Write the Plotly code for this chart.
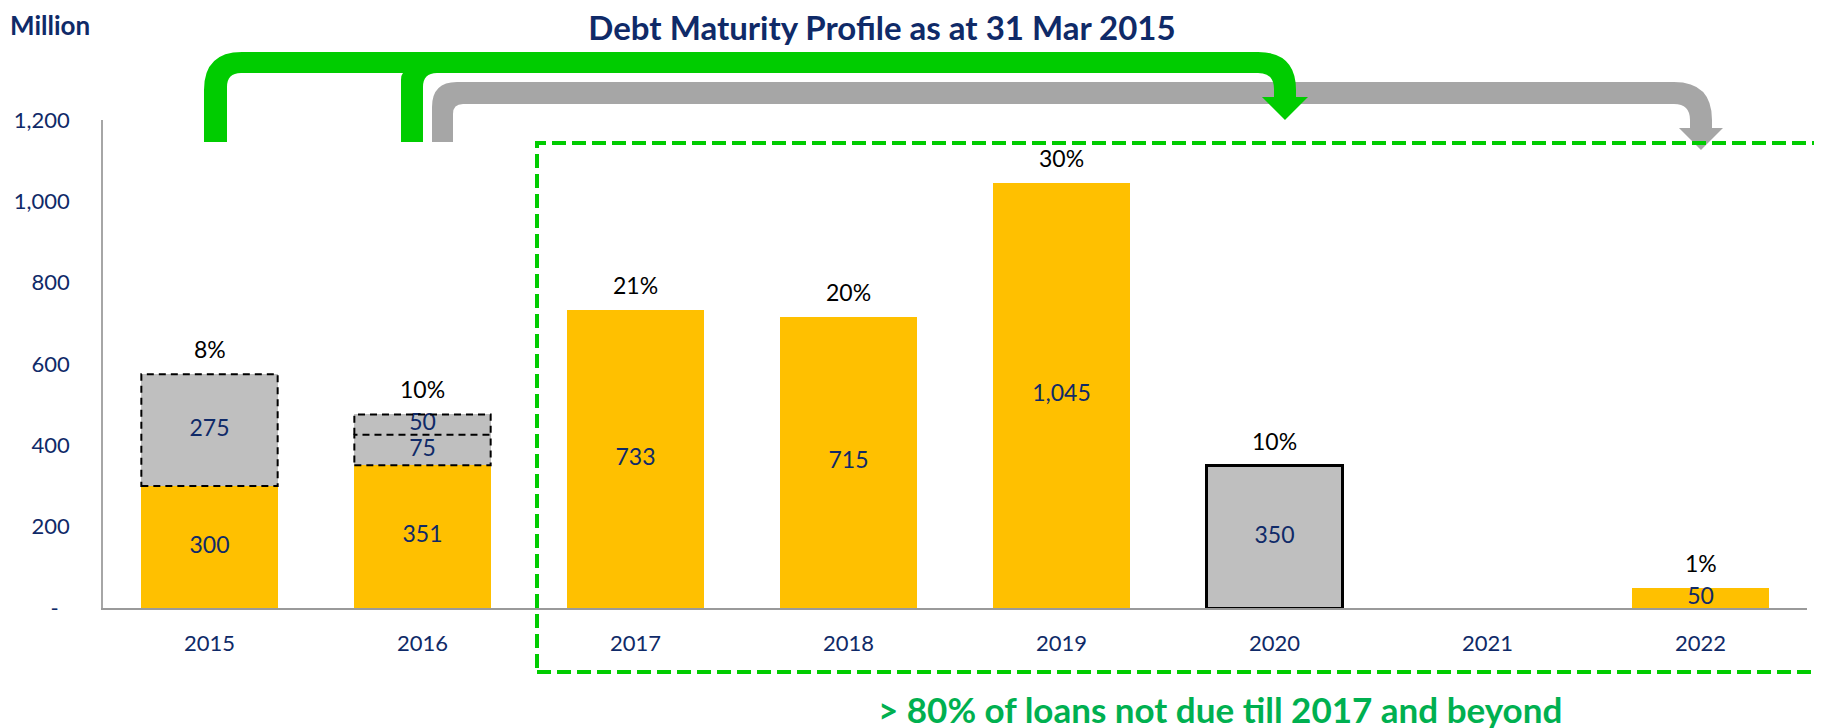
import plotly.graph_objects as go

# data
years = ["2015", "2016", "2017", "2018", "2019", "2020", "2021", "2022"]
loans = [300, 351, 733, 715, 1045, 0, 0, 50]          # yellow
refinance_a = [275, 75, 0, 0, 0, 0, 0, 0]            # grey, dashed outline
refinance_b = [0, 50, 0, 0, 0, 0, 0, 0]              # grey, dashed outline
bond = [0, 0, 0, 0, 0, 350, 0, 0]                    # grey, solid outline
share = ["8%", "10%", "21%", "20%", "30%", "10%", "", "1%"]

y_ticks = [0, 200, 400, 600, 800, 1000, 1200]
y_tick_labels = ["-\u00a0\u00a0", "200", "400", "600", "800", "1,000", "1,200"]

NAVY = "#0F2A68"
YELLOW = "#FFC000"
GREY = "#BFBFBF"
GREEN = "#00CC00"
FONT = "Lato"

# page body has an 8px margin, so work in screen pixels and subtract it
OFF = 8
W_FIG, H_FIG = 1822, 728
PLOT_L, PLOT_R, PLOT_T, PLOT_B = 103, 1807, 120, 608      # screen pixels
M_L, M_T = PLOT_L - OFF, PLOT_T - OFF
M_R, M_B = W_FIG - (PLOT_R - OFF), H_FIG - (PLOT_B - OFF)
PW = PLOT_R - PLOT_L
PH = PLOT_B - PLOT_T

BARGAP = 0.36
HALF = (1 - BARGAP) / 2


def fx(x):
    return (x - PLOT_L) / PW


def fy(y):
    return (PLOT_B - y) / PH


def pp(x, y):
    return f"{fx(x):.5f},{fy(y):.5f}"


def path(cmds):
    out = []
    for c in cmds:
        if c[0] == "Q":
            out.append(f"Q{pp(*c[1])} {pp(*c[2])}")
        else:
            out.append(f"{c[0]}{pp(*c[1])}")
    return " ".join(out) + " Z"


def nz(vals):
    return [v if v else None for v in vals]


fig = go.Figure()

fig.add_trace(go.Bar(x=years, y=nz(loans), marker_color=YELLOW, marker_line_width=0, name="Loans"))
fig.add_trace(go.Bar(x=years, y=nz(refinance_a), marker_color=GREY, marker_line_width=0, name="Refinance A"))
fig.add_trace(go.Bar(x=years, y=nz(refinance_b), marker_color=GREY, marker_line_width=0, name="Refinance B"))
fig.add_trace(go.Bar(x=years, y=nz(bond), marker_color=GREY,
                     marker_line=dict(color="black", width=2.5), name="Bond"))

# value labels in the middle of each segment
series = [loans, refinance_a, refinance_b, bond]
base = [0] * len(years)
for s in series:
    xs, ys, ts = [], [], []
    for i, v in enumerate(s):
        if v:
            xs.append(years[i])
            ys.append(base[i] + v / 2)
            ts.append(f"{v:,}")
    fig.add_trace(go.Scatter(x=xs, y=ys, text=ts, mode="text", textposition="middle center",
                             textfont=dict(family=FONT, size=23, color=NAVY),
                             hoverinfo="skip", cliponaxis=False))
    base = [b + v for b, v in zip(base, s)]

# dashed outline for refinanced segments (shared edges drawn once)
dash_line = dict(color="black", width=2, dash="7px,5px")
for i in range(len(years)):
    lo = loans[i]
    top_a = lo + refinance_a[i]
    top_b = top_a + refinance_b[i]
    if refinance_a[i]:
        fig.add_shape(type="rect", xref="x", yref="y", x0=i - HALF, x1=i + HALF,
                      y0=lo, y1=top_a, line=dash_line)
    if refinance_b[i]:
        fig.add_shape(type="path", xref="x", yref="y",
                      path=f"M{i - HALF},{top_a} L{i - HALF},{top_b} L{i + HALF},{top_b} L{i + HALF},{top_a}",
                      line=dash_line)

# percentage above bars (x given as category index)
for i, t in enumerate(share):
    if t:
        fig.add_annotation(x=i, y=base[i], text=t, showarrow=False, yanchor="bottom",
                           yshift=9, font=dict(family=FONT, size=23, color="black"))

# bent arrows
grey_arrow = path([
    ("M", (432, 142)), ("L", (432, 107)), ("Q", (432, 82), (457, 82)),
    ("L", (1674, 82)), ("Q", (1712, 82), (1712, 120)), ("L", (1712, 128)),
    ("L", (1723, 128)), ("L", (1701, 150)), ("L", (1679, 128)), ("L", (1690, 128)),
    ("L", (1690, 120)), ("Q", (1690, 104), (1674, 104)), ("L", (463, 104)),
    ("Q", (453, 104), (453, 114)), ("L", (453, 142)),
])
green_arrow = path([
    ("M", (204, 142)), ("L", (204, 90)), ("Q", (204, 52), (242, 52)),
    ("L", (1258, 52)), ("Q", (1296, 52), (1296, 90)), ("L", (1296, 97)),
    ("L", (1308, 97)), ("L", (1285, 120)), ("L", (1262, 97)), ("L", (1274, 97)),
    ("L", (1274, 89)), ("Q", (1274, 73), (1258, 73)), ("L", (241, 73)),
    ("Q", (227, 73), (227, 87)), ("L", (227, 142)),
])
green_stem = path([
    ("M", (401, 142)), ("L", (401, 80)), ("Q", (401, 70), (410, 70)), ("L", (410, 60)),
    ("L", (437, 60)), ("L", (437, 73)), ("Q", (423, 73), (423, 87)), ("L", (423, 142)),
])
for p, col in [(grey_arrow, "#A6A6A6"), (green_arrow, GREEN), (green_stem, GREEN)]:
    fig.add_shape(type="path", xref="paper", yref="paper", path=p,
                  fillcolor=col, line=dict(width=0), layer="above")

# dashed highlight box
fig.add_shape(type="rect", xref="paper", yref="paper",
              x0=fx(537), x1=fx(1817), y0=fy(672), y1=fy(143),
              line=dict(color=GREEN, width=4, dash="14px,6px"), layer="above")

fig.add_annotation(xref="paper", yref="paper", x=fx(1220), y=fy(709),
                   text="<b>&gt; 80% of loans not due till 2017 and beyond</b>", showarrow=False,
                   xanchor="center", yanchor="middle", font=dict(family=FONT, size=35, color="#00B050"))
fig.add_annotation(xref="paper", yref="paper", x=fx(50), y=fy(25),
                   text="<b>Million</b>", showarrow=False, xanchor="center", yanchor="middle",
                   font=dict(family=FONT, size=26, color=NAVY))

fig.update_layout(
    width=W_FIG, height=H_FIG,
    margin=dict(l=M_L, r=M_R, t=M_T, b=M_B, autoexpand=False),
    barmode="stack", bargap=BARGAP,
    showlegend=False,
    plot_bgcolor="white", paper_bgcolor="white",
    title=dict(text="<b>Debt Maturity Profile as at 31 Mar 2015</b>", x=(882 - OFF) / W_FIG,
               xanchor="center", y=1 - (28 - OFF) / H_FIG, yanchor="middle",
               font=dict(family=FONT, size=33, color=NAVY)),
    font=dict(family=FONT, size=22, color=NAVY),
)
fig.update_xaxes(type="category", range=[-0.5, len(years) - 0.5], showline=True, automargin=False,
                 linecolor="#9A9A9A", linewidth=2, showgrid=False,
                 ticks="", ticklabelstandoff=15, tickfont=dict(family=FONT, size=22, color=NAVY))
fig.update_yaxes(range=[0, 1200], tickvals=y_ticks, ticktext=y_tick_labels, showline=True,
                 automargin=False, linecolor="#A6A6A6", linewidth=1.5, showgrid=False,
                 zeroline=False, ticks="", ticklabelstandoff=27,
                 tickfont=dict(family=FONT, size=22, color=NAVY))

fig.write_html("out.html")
